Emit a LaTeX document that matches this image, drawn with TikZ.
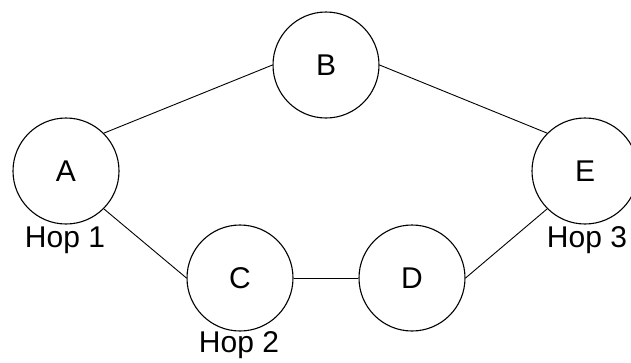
\documentclass[tikz,border=0pt]{standalone}
\usepackage{fontspec}
\setmainfont{Liberation Sans}
\begin{document}
\begin{tikzpicture}[x=1pt,y=-1pt,
  router/.style={circle,draw,line width=1.1pt,minimum size=106pt,inner sep=0pt,font=\fontsize{30}{34}\selectfont},
  hoplabel/.style={font=\fontsize{30}{34}\selectfont,inner sep=0pt},
  link/.style={line width=0.9pt}]
  \useasboundingbox (0,0) rectangle (631,362);
  \clip (0,0) rectangle (631,362);
  % routers
  \node[router] (A) at (66,171) {A};
  \node[router] (B) at (326,65) {B};
  \node[router] (C) at (240,278) {C};
  \node[router] (D) at (412,278) {D};
  \node[router] (E) at (585,171) {E};
  % links, attached at fixed anchors
  \draw[link] (A.north east) -- (B.west);
  \draw[link] (B.east) -- (E.north west);
  \draw[link] (A.south east) -- (C.west);
  \draw[link] (C.east) -- (D.west);
  \draw[link] (D.east) -- (E.south west);
  % hop labels
  \node[hoplabel] (h1) at (65,240) {Hop 1};
  \node[hoplabel] (h2) at (239,345) {Hop 2};
  \node[hoplabel] (h3) at (587,240) {Hop 3};
\end{tikzpicture}
\end{document}
